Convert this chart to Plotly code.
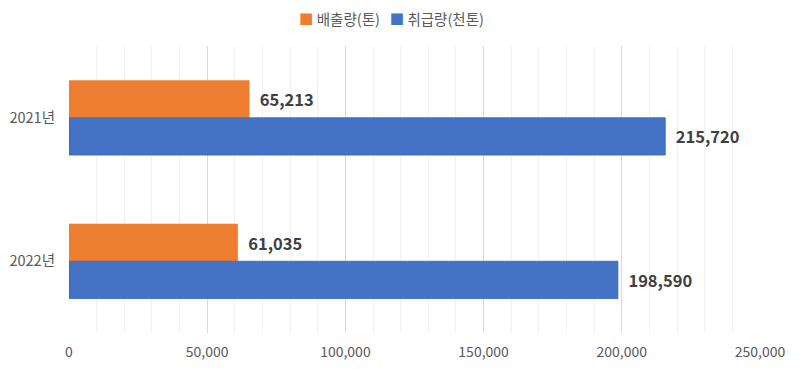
import plotly.graph_objects as go

categories = ["2021년", "2022년"]
emission = [65213, 61035]
handling = [215720, 198590]
series_names = ["배출량(톤)", "취급량(천톤)"]
series_colors = ["#ED7D31", "#4472C4"]
tick_vals = [0, 50000, 100000, 150000, 200000, 250000]
tick_text = ["0", "50,000", "100,000", "150,000", "200,000", "250,000"]

FONT = "Noto Sans CJK KR, Malgun Gothic, sans-serif"
LABEL = "\u00a0\u00a0%{x:,}"

fig = go.Figure()
fig.add_trace(go.Bar(
    y=categories, x=emission, orientation="h", name=series_names[0],
    marker=dict(color=series_colors[0], line=dict(color=series_colors[0], width=0.5)),
    texttemplate=LABEL, textposition="outside", cliponaxis=False,
    textfont=dict(family=FONT, size=16.5, color="#404040", weight="bold"),
))
fig.add_trace(go.Bar(
    y=categories, x=handling, orientation="h", name=series_names[1],
    marker=dict(color=series_colors[1], line=dict(color="#3A64B0", width=0.8)),
    texttemplate=LABEL, textposition="outside", cliponaxis=False,
    textfont=dict(family=FONT, size=16.5, color="#404040", weight="bold"),
))

legend_text = "\u00a0\u00a0\u00a0".join(
    f"<span style='color:{c}'>■</span>\u00a0{n}" for n, c in zip(series_names, series_colors)
)
fig.add_annotation(text=legend_text, xref="paper", yref="paper", x=0.466, y=1,
                   yanchor="middle", xanchor="center", yshift=28, showarrow=False,
                   borderpad=0,
                   font=dict(family=FONT, size=14.5, color="#595959"))

# page body has an 8px default margin; compensate so the plot area sits where the reference has it
fig.update_layout(
    width=800, height=369,
    barmode="group", bargap=0.48, bargroupgap=0,
    plot_bgcolor="white", paper_bgcolor="white",
    margin=dict(l=61, r=48, t=38, b=44, autoexpand=False),
    font=dict(family=FONT, size=14, color="#595959"),
    showlegend=False,
    xaxis=dict(range=[0, 250000], tickvals=tick_vals, ticktext=tick_text,
               showgrid=True, gridcolor="#D9D9D9", gridwidth=1,
               minor=dict(dtick=10000, showgrid=True, gridcolor="#F0F0F0", gridwidth=1),
               zeroline=False, showline=False, ticks="", automargin=False,
               ticklabelstandoff=9, tickfont=dict(size=14, color="#595959")),
    yaxis=dict(autorange="reversed", showgrid=False, showline=False, ticks="",
               automargin=False,
               ticklabelstandoff=13, tickfont=dict(size=14.5, color="#595959")),
)

fig.write_html("out.html")
